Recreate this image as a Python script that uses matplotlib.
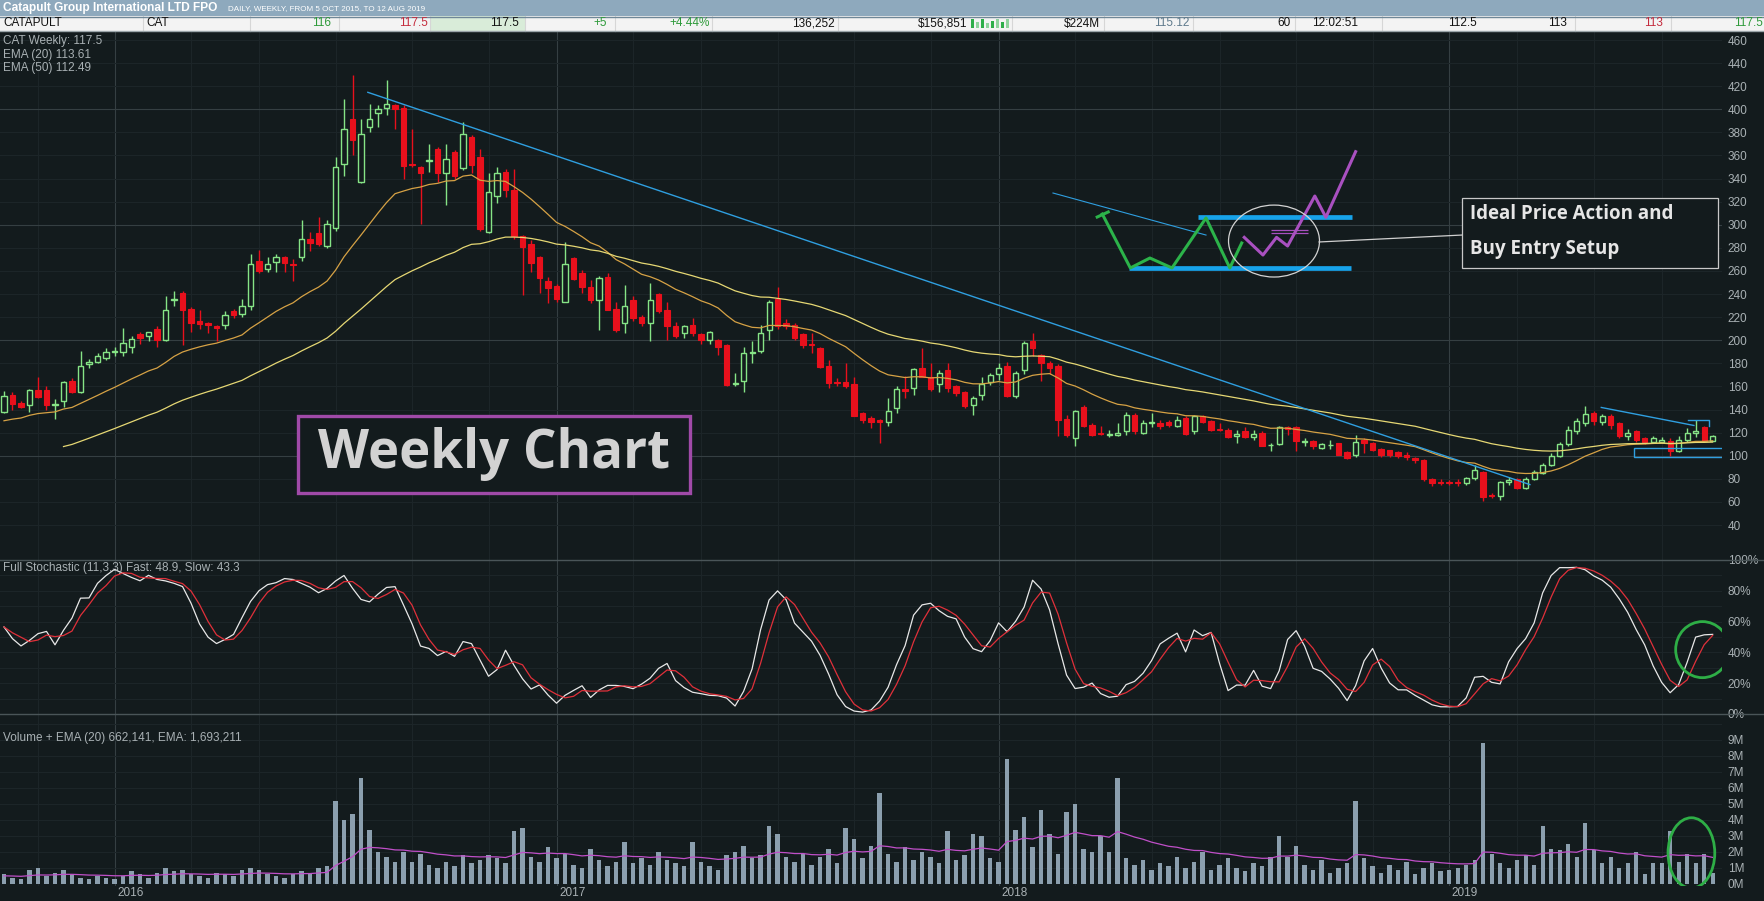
import numpy as np
import pandas as pd
import matplotlib
matplotlib.use('Agg')
import matplotlib.pyplot as plt
from matplotlib.patches import Rectangle, Ellipse

# weekly candles for CAT, 5 Oct 2015 .. 12 Aug 2019
opens = [138, 153, 146, 144, 157, 157, 144, 147, 165, 155, 179, 181, 185, 190, 190, 194, 205, 204, 210, 200,
         235, 241, 227, 217, 215, 212, 213, 225, 223, 230, 269, 262, 268, 272, 266, 272, 288, 293, 282, 297,
         353, 392, 337, 385, 397, 401, 404, 401, 353, 350, 355, 366, 345, 363, 349, 376, 359, 294, 325, 346,
         330, 290, 283, 272, 251, 247, 233, 271, 258, 246, 235, 255, 227, 215, 235, 220, 215, 240, 226, 212,
         206, 213, 205, 200, 200, 196, 162, 165, 189, 191, 209, 236, 215, 213, 205, 197, 193, 178, 164, 164,
         162, 137, 133, 131, 129, 141, 158, 159, 176, 168, 162, 174, 160, 155, 144, 153, 164, 171, 178, 152,
         174, 199, 187, 180, 178, 132, 115, 142, 127, 120, 118, 118, 121, 135, 120, 128, 128, 129, 126, 133,
         121, 134, 130, 123, 122, 117, 121, 116, 120, 109, 110, 125, 125, 112, 113, 107, 109, 111, 103, 101,
         114, 111, 106, 105, 103, 101, 98, 96, 80, 77, 77, 77, 76, 81, 86, 66, 65, 77, 80, 72,
         80, 85, 92, 100, 110, 121, 128, 137, 129, 134, 128, 117, 121, 115, 112, 112, 113, 104, 114, 120,
         125, 113]
highs = [156, 155, 147, 158, 168, 160, 149, 165, 167, 191, 184, 189, 193, 194, 211, 204, 207, 207, 212, 238,
         243, 243, 229, 226, 216, 213, 225, 227, 236, 275, 278, 272, 275, 273, 270, 304, 294, 307, 304, 359,
         409, 430, 392, 405, 404, 425, 405, 404, 383, 351, 370, 367, 370, 365, 389, 378, 366, 345, 350, 348,
         348, 291, 287, 273, 255, 249, 285, 272, 261, 252, 256, 258, 233, 248, 238, 222, 250, 241, 233, 216,
         213, 219, 206, 208, 201, 197, 172, 194, 199, 213, 235, 246, 218, 215, 206, 206, 194, 183, 167, 180,
         168, 138, 134, 132, 150, 160, 169, 176, 193, 180, 174, 180, 161, 156, 152, 168, 172, 180, 181, 173,
         199, 206, 188, 182, 179, 135, 140, 144, 128, 126, 122, 128, 138, 137, 131, 137, 131, 131, 134, 134,
         135, 135, 131, 128, 124, 122, 125, 122, 121, 111, 126, 126, 126, 115, 114, 111, 114, 111, 104, 118,
         115, 112, 107, 105, 104, 103, 99, 97, 81, 80, 79, 80, 82, 92, 87, 68, 78, 82, 81, 82,
         88, 94, 102, 112, 126, 133, 143, 139, 136, 136, 129, 123, 122, 116, 117, 116, 115, 117, 124, 131,
         126, 118]
lows = [137, 140, 141, 138, 150, 140, 132, 142, 154, 154, 176, 180, 183, 186, 186, 189, 197, 199, 194, 199,
        230, 196, 207, 210, 206, 199, 210, 219, 220, 226, 258, 259, 259, 259, 251, 269, 277, 282, 280, 295,
        342, 360, 336, 380, 385, 395, 383, 340, 350, 301, 346, 337, 317, 340, 347, 345, 295, 293, 319, 324,
        288, 239, 259, 241, 232, 233, 233, 252, 241, 232, 209, 226, 207, 206, 217, 212, 199, 224, 200, 202,
        202, 204, 197, 197, 187, 160, 160, 155, 180, 189, 200, 210, 210, 200, 193, 189, 176, 159, 160, 159,
        134, 128, 124, 111, 126, 137, 150, 153, 168, 156, 155, 155, 152, 141, 135, 148, 161, 166, 151, 150,
        171, 186, 165, 171, 117, 116, 108, 125, 117, 118, 116, 117, 118, 119, 119, 125, 123, 125, 125, 118,
        119, 128, 121, 121, 115, 111, 115, 114, 108, 104, 109, 118, 104, 108, 106, 106, 106, 101, 97, 99,
        102, 104, 99, 99, 98, 96, 94, 78, 74, 75, 75, 74, 75, 79, 61, 63, 62, 75, 71, 71,
        79, 84, 91, 99, 108, 119, 126, 127, 127, 123, 115, 114, 112, 110, 111, 111, 100, 103, 112, 116,
        112, 112.5]
closes = [152, 145, 142, 157, 151, 144, 145, 164, 155, 178, 181, 186, 190, 191, 198, 201, 202, 207, 200, 226,
          236, 226, 215, 214, 213, 211, 222, 222, 230, 266, 260, 266, 272, 267, 265, 288, 284, 283, 301, 350,
          383, 373, 379, 392, 400, 405, 400, 351, 352, 345, 356, 345, 357, 342, 379, 352, 296, 328, 345, 330,
          290, 281, 267, 254, 245, 236, 266, 253, 246, 235, 254, 226, 209, 230, 219, 215, 235, 225, 212, 204,
          212, 206, 200, 207, 194, 161, 163, 189, 190, 206, 233, 212, 212, 202, 196, 196, 177, 163, 163, 160,
          134, 131, 129, 129, 139, 158, 156, 175, 168, 158, 172, 159, 154, 143, 150, 162, 170, 176, 152, 172,
          198, 193, 180, 176, 131, 118, 139, 126, 118, 119, 119, 120, 135, 121, 128, 129, 126, 127, 131, 119,
          134, 129, 122, 122, 116, 119, 116, 119, 108, 109, 125, 123, 113, 113, 108, 110, 109, 101, 98, 112,
          111, 105, 101, 101, 100, 99, 96, 80, 76, 76, 76, 76, 81, 88, 64, 65, 77, 79, 72, 80,
          86, 92, 100, 110, 122, 130, 136, 130, 134, 127, 117, 120, 114, 112, 115, 114, 104, 114, 120, 121,
          112.5, 117.5]
# weekly volume, millions of shares
volume_m = [0.6, 0.4, 0.3, 0.9, 1.0, 0.5, 0.7, 0.9, 0.6, 0.4, 0.3, 0.5, 0.4, 0.3, 0.5, 0.8, 0.6, 0.4, 0.7, 1.0,
            0.8, 0.9, 0.6, 0.5, 0.4, 0.7, 0.6, 0.5, 0.9, 1.0, 0.9, 0.6, 0.5, 0.4, 0.6, 0.8, 0.7, 1.0, 1.1, 5.2,
            4.0, 4.4, 6.6, 3.4, 2.0, 1.7, 1.4, 2.0, 1.4, 1.9, 1.2, 1.0, 1.4, 1.1, 1.8, 1.3, 1.5, 1.8, 1.6, 1.3,
            3.3, 3.5, 1.7, 1.4, 2.3, 1.6, 1.9, 1.2, 1.0, 2.2, 1.5, 1.1, 1.4, 2.6, 1.3, 1.6, 1.2, 2.0, 1.5, 1.3,
            1.1, 2.6, 1.4, 1.1, 0.9, 1.8, 2.0, 2.4, 1.6, 1.8, 3.6, 3.1, 1.7, 1.4, 1.9, 1.2, 1.7, 2.2, 1.3, 3.5,
            2.8, 1.6, 2.4, 5.7, 1.9, 1.4, 2.3, 1.5, 2.0, 1.7, 1.3, 3.3, 1.5, 1.8, 3.1, 3.0, 1.6, 1.4, 7.8, 3.4,
            4.2, 2.3, 4.6, 3.1, 1.9, 4.5, 5.0, 2.2, 2.0, 3.0, 2.0, 6.6, 1.6, 1.2, 1.5, 0.9, 1.3, 1.1, 1.7, 1.0,
            1.4, 2.0, 0.9, 1.2, 1.6, 1.0, 0.8, 1.3, 1.1, 1.7, 3.0, 1.7, 2.4, 1.2, 0.9, 1.5, 0.7, 1.0, 1.3, 5.2,
            1.6, 1.1, 0.7, 1.2, 0.9, 1.4, 0.6, 1.0, 1.3, 0.8, 0.9, 1.0, 1.2, 1.5, 8.8, 1.9, 1.3, 1.0, 1.5, 1.8,
            1.2, 3.6, 2.2, 2.1, 2.5, 1.7, 3.8, 2.1, 1.3, 1.7, 1.0, 1.3, 2.0, 0.6, 1.3, 1.3, 3.3, 1.4, 1.9, 1.3,
            1.9, 0.66]
# range of the ten weeks before the first candle (feeds the stochastic look-back)
prior_high, prior_low = 172, 126

price_ticks = list(range(40, 461, 20))
stoch_ticks = [0, 20, 40, 60, 80, 100]
vol_ticks = list(range(0, 10))

# hand drawn annotations, in (week index, price) units
trend_x, trend_y = [42.8, 179.5], [414.7, 75.0]
sketch_thin_x, sketch_thin_y = [123.4, 141.4], [327.5, 291.1]
sketch_tick_x, sketch_tick_y = [128.6, 129.9], [306.7, 311.1]
sketch_green_x = [129.2, 132.5, 134.8, 137.4, 141.4, 144.2, 145.6]
sketch_green_y = [309.3, 262.6, 271.2, 262.6, 305.9, 262.6, 284.2]
sketch_purple_x = [145.9, 148.1, 149.7, 151.0, 154.2, 155.5, 159.0]
sketch_purple_y = [289.1, 273.8, 289.1, 281.6, 324.9, 306.5, 363.3]
resist_x, resist_y = [140.5, 158.6], 306.7
support_x, support_y = [132.4, 158.5], 262.6
recent_trend_x, recent_trend_y = [187.9, 198.8], [141.8, 126.2]

n = len(closes)
dates = pd.date_range('2015-10-05', periods=n, freq='W-MON')
x = np.arange(n)
o, h, l, c = (np.array(a, float) for a in (opens, highs, lows, closes))
vol = np.array(volume_m)

# indicators, as the platform computes them
ema20 = pd.Series([128.0] + closes).ewm(span=20, adjust=False).mean().values[1:]
ema50 = pd.Series([92.0] + closes).ewm(span=50, adjust=False).mean().values[1:]
hist = pd.Series(x < 10)
lo11 = pd.Series(lows).rolling(11, min_periods=1).min()
hi11 = pd.Series(highs).rolling(11, min_periods=1).max()
lo11 = lo11.where(~hist, np.minimum(lo11, prior_low))
hi11 = hi11.where(~hist, np.maximum(hi11, prior_high))
raw_k = 100 * (pd.Series(closes) - lo11) / (hi11 - lo11)
fast = raw_k.rolling(3, min_periods=1).mean()
slow = fast.rolling(3, min_periods=1).mean()
vol_ema = pd.Series([0.5] + volume_m).ewm(span=20, adjust=False).mean().values[1:]

# colours
BG = '#131b1d'
GRID = '#1c2528'
GRID_MAJOR = '#353f42'
SEP = '#4a5558'
TXT = '#a9b1b4'
UP = '#86e486'
DN = '#e8101c'
plt.rcParams['font.family'] = ['Liberation Sans', 'DejaVu Sans']

W, H = 1765, 901
fig = plt.figure(figsize=(W / 100, H / 100), dpi=100, facecolor=BG)


def fx(px):
    return px / W


def fy(py):
    return 1 - py / H


month_start = [i for i in range(n) if i == 0 or dates[i].month != dates[i - 1].month]
grid_idx = [i for i in month_start if dates[i].month in (1, 3, 5, 7, 9, 11)]
year_idx = [i for i in range(1, n) if dates[i].year != dates[i - 1].year]


def panel(top, bottom):
    ax = fig.add_axes([0, fy(bottom), fx(1722), (bottom - top) / H])
    ax.set_facecolor(BG)
    for s in ax.spines.values():
        s.set_visible(False)
    ax.set_xlim(-0.47, 202.1)
    ax.set_xticks([])
    ax.yaxis.tick_right()
    ax.tick_params(axis='y', length=0, pad=4, labelsize=8.5, labelcolor=TXT)
    for i in grid_idx:
        ax.axvline(i, color=GRID_MAJOR if dates[i].month == 1 else GRID, lw=0.8, zorder=0)
    return ax


# ---- price panel ----
ax_p = panel(31, 560)
ax_p.set_ylim(9.7, 467.8)
ax_p.set_yticks(price_ticks)
for v in price_ticks:
    ax_p.axhline(v, color=GRID_MAJOR if v % 100 == 0 else GRID, lw=0.8, zorder=0)

up = c >= o
ax_p.vlines(x[up], l[up], h[up], color=UP, lw=1.0, zorder=2)
ax_p.vlines(x[~up], l[~up], h[~up], color=DN, lw=1.0, zorder=2)
ax_p.bar(x[up], c[up] - o[up], bottom=o[up], width=0.6, facecolor=BG, edgecolor=UP, linewidth=1.0, zorder=3)
ax_p.bar(x[~up], c[~up] - o[~up], bottom=o[~up], width=0.62, facecolor=DN, edgecolor=DN, linewidth=0.8, zorder=3)
ax_p.plot(x, ema20, color='#d6a245', lw=0.9, zorder=4)
ax_p.plot(x[7:], ema50[7:], color='#e6d874', lw=0.9, zorder=4)

ax_p.plot(trend_x, trend_y, color='#2f9fe0', lw=1.0, zorder=5)

# ideal set-up sketch
ax_p.plot(sketch_thin_x, sketch_thin_y, color='#2f9fe0', lw=0.8, zorder=5)
ax_p.hlines(resist_y, *resist_x, color='#17a3ea', lw=3.4, zorder=5)
ax_p.hlines(support_y, *support_x, color='#17a3ea', lw=3.4, zorder=5)
ax_p.plot(sketch_tick_x, sketch_tick_y, color='#2cb34a', lw=2.2, zorder=6)
ax_p.plot(sketch_green_x, sketch_green_y, color='#2cb34a', lw=2.2, zorder=6)
ax_p.plot(sketch_purple_x, sketch_purple_y, color='#a950c0', lw=2.2, zorder=6)
ax_p.hlines([295.5, 292.9], 149.1, 153.4, color='#a950c0', lw=0.9, zorder=6)
ax_p.add_patch(Ellipse((149.4, 285.9), 10.7, 62.3, fill=False, edgecolor='#d4d4d4', lw=0.9, zorder=6))
ax_p.plot([154.7, 171.5], [285.1, 291.1], color='#cfcfcf', lw=0.9, zorder=6)
ax_p.add_patch(Rectangle((171.5, 262.6), 30.1, 60.6, facecolor=BG, edgecolor='#c8c8c8', lw=0.9, zorder=6))
ax_p.text(172.4, 309.3, 'Ideal Price Action and', family=['Open Sans', 'DejaVu Sans'], weight='bold',
          fontsize=13.5, color='#e6e6e6', va='center', ha='left', zorder=7)
ax_p.text(172.4, 279.0, 'Buy Entry Setup', family=['Open Sans', 'DejaVu Sans'], weight='bold',
          fontsize=13.5, color='#e6e6e6', va='center', ha='left', zorder=7)

# recent consolidation marks
ax_p.plot(recent_trend_x, recent_trend_y, color='#2f9fe0', lw=1.0, zorder=5)
ax_p.plot([198.1, 200.6, 200.6], [130.9, 130.9, 125.5], color='#2f9fe0', lw=1.0, zorder=5)
ax_p.add_patch(Rectangle((191.8, 98.9), 11.0, 7.8, fill=False, edgecolor='#2f9fe0', lw=1.0, zorder=5))

# weekly chart label
ax_p.add_patch(Rectangle((34.6, 67.7), 46.1, 66.7, facecolor=BG, edgecolor='#a04aa8', lw=2.4, zorder=6))
ax_p.text(57.6, 101.5, 'Weekly Chart', family=['Open Sans', 'DejaVu Sans'], weight='bold',
          fontsize=38, color='#d2d2d2', ha='center', va='center', zorder=7)

# ---- stochastic panel ----
ax_s = panel(560, 714)
ax_s.set_ylim(0, 100)
ax_s.set_yticks(stoch_ticks)
ax_s.set_yticklabels([f'{v}%' for v in stoch_ticks])
for v in range(10, 100, 10):
    ax_s.axhline(v, color=GRID, lw=0.8, zorder=0)
ax_s.plot(x, fast, color='#e8e8e8', lw=0.9, zorder=3)
ax_s.plot(x, slow, color='#e0303a', lw=0.9, zorder=4)
ax_s.add_patch(Ellipse((199.8, 41.8), 6.3, 36.4, fill=False, edgecolor='#2eae46', lw=2.0, zorder=5))

# ---- volume panel ----
ax_v = panel(714, 886)
ax_v.set_ylim(-0.125, 10.625)
ax_v.set_yticks(vol_ticks)
ax_v.set_yticklabels([f'{v}M' for v in vol_ticks])
for v in range(1, 11):
    ax_v.axhline(v, color=GRID, lw=0.8, zorder=0)
ax_v.bar(x, vol, width=0.5, color='#8b9fae', zorder=2)
ax_v.plot(x, vol_ema, color='#c04fc8', lw=0.9, zorder=3)
ax_v.add_patch(Ellipse((198.5, 1.94), 5.5, 4.4, fill=False, edgecolor='#2eae46', lw=2.0, zorder=5))
for i in year_idx:
    ax_v.text(i + 0.3, -0.04, str(dates[i].year), transform=ax_v.get_xaxis_transform(),
              ha='left', va='center', fontsize=8.5, color=TXT)

# panel separators
for py in (560, 714):
    fig.add_artist(plt.Line2D([0, 1], [fy(py), fy(py)], color=SEP, lw=1.0))

# indicator captions
small = dict(fontsize=8.5, color=TXT, ha='left', va='center')
fig.text(fx(3), fy(41), 'CAT Weekly: 117.5', **small)
fig.text(fx(3), fy(55), 'EMA (20) 113.61', **small)
fig.text(fx(3), fy(68), 'EMA (50) 112.49', **small)
fig.text(fx(3), fy(568), 'Full Stochastic (11,3,3) Fast: 48.9, Slow: 43.3', **small)
fig.text(fx(3), fy(738), 'Volume + EMA (20) 662,141, EMA: 1,693,211', **small)

# ---- header bars ----
fig.add_artist(Rectangle((0, fy(16)), 1, 16 / H, facecolor='#8ea9bd', edgecolor='none'))
fig.add_artist(Rectangle((0, fy(31)), 1, 15 / H, facecolor='#f3f3f3', edgecolor='none'))
fig.add_artist(Rectangle((fx(430), fy(31)), 95 / W, 15 / H, facecolor='#d9ecd9', edgecolor='none'))
for px in [143, 250, 339, 430, 525, 615, 712, 838, 1012, 1104, 1193, 1295, 1382, 1575, 1671]:
    fig.add_artist(plt.Line2D([fx(px), fx(px)], [fy(31), fy(16)], color='#d6d6d6', lw=0.8))
fig.add_artist(plt.Line2D([0, 1], [fy(16.5), fy(16.5)], color='#6f8797', lw=1.0))
fig.add_artist(plt.Line2D([0, 1], [fy(31), fy(31)], color='#9aa4a8', lw=1.0))
for k, hgt in enumerate([9, 6, 9, 5, 7, 9, 6, 9]):
    fig.add_artist(Rectangle((fx(971 + 5 * k), fy(28)), 3 / W, hgt / H,
                             facecolor='#2fae4a' if k % 2 == 0 else '#8fd39c', edgecolor='none'))

fig.text(fx(3), fy(8), 'Catapult Group International LTD FPO', fontsize=8.6, weight='bold',
         color='white', ha='left', va='center')
fig.text(fx(228), fy(8.5), 'DAILY, WEEKLY, FROM 5 OCT 2015, TO 12 AUG 2019', fontsize=5.8,
         color='white', ha='left', va='center')

GTXT, RTXT, BTXT = '#2e9a3a', '#c42a3c', '#111111'
quote_cells = [
    (3, 'CATAPULT', BTXT, 'left'), (146, 'CAT', BTXT, 'left'), (331, '116', GTXT, 'right'),
    (428, '117.5', RTXT, 'right'), (519, '117.5', BTXT, 'right'), (607, '+5', GTXT, 'right'),
    (710, '+4.44%', GTXT, 'right'), (835, '136,252', BTXT, 'right'), (967, '$156,851', BTXT, 'right'),
    (1100, '$224M', BTXT, 'right'), (1189, '115.12', '#5f7a8c', 'right'), (1291, '60', BTXT, 'right'),
    (1358, '12:02:51', BTXT, 'right'), (1477, '112.5', BTXT, 'right'), (1567, '113', BTXT, 'right'),
    (1663, '113', RTXT, 'right'), (1763, '117.5', GTXT, 'right'),
]
for px, txt, col, ha in quote_cells:
    fig.text(fx(px), fy(23.5), txt, fontsize=8.5, color=col, ha=ha, va='center')

fig.savefig('out.png', dpi=100, facecolor=BG)
